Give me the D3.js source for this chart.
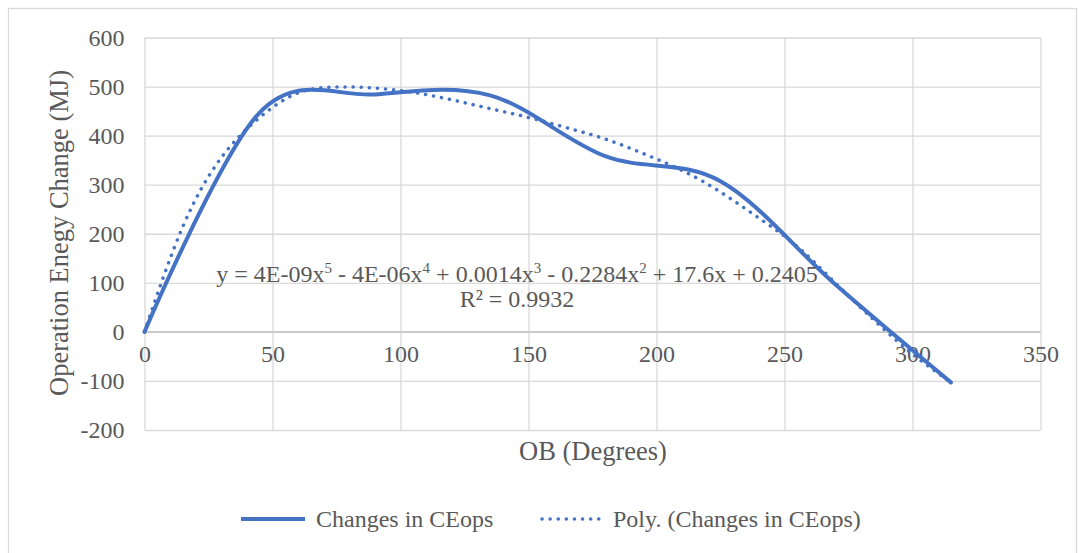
<!DOCTYPE html>
<html lang="en">
<head>
    <meta charset="utf-8">
    <title>Operation Energy Change</title>
    <style>
        body { margin: 0; background: white; }
        svg { display: block; }
        .grid line { stroke: #d9d9d9; stroke-width: 1.3; }
        .grid path { display: none; }
        .tick-label text { font-family: "Liberation Serif", "Times New Roman", serif; font-size: 24px; fill: #595959; }
        .tick-label path, .tick-label line { display: none; }
        .title { font-family: "Liberation Serif", "Times New Roman", serif; font-size: 26.5px; fill: #595959; }
        .eq { font-family: "Liberation Serif", "Times New Roman", serif; font-size: 24px; fill: #595959; }
        .legend { font-family: "Liberation Serif", "Times New Roman", serif; font-size: 24px; fill: #595959; }
    </style>
    <script src="https://d3js.org/d3.v7.min.js"></script>
</head>
<body>
<svg id="chart" width="1078" height="553"></svg>
<script>
    // measured series (OB degrees vs energy change)
    const obDegrees = [0, 45, 90, 135, 180, 225, 270, 315];
    const ceopsChange = [0, 447, 484, 482, 358, 307, 96, -103];

    // polynomial trendline
    const trendDegrees = [0, 15, 30, 45, 60, 75, 90, 105, 120, 135, 150, 165, 180, 195, 210, 225, 240, 255, 270, 285, 300, 315];
    const trendValues = [0, 215, 355, 437, 487, 499, 497, 488, 473, 455, 437, 416, 393, 363, 329, 285, 232, 174, 99, 24, -45, -103];

    const xTicks = [0, 50, 100, 150, 200, 250, 300, 350];
    const yTicks = [-200, -100, 0, 100, 200, 300, 400, 500, 600];

    const seriesName = "Changes in CEops";
    const trendName = "Poly. (Changes in CEops)";
    const blue = "#4472c4";

    const svg = d3.select("#chart");

    // chart border
    svg.append("rect")
        .attr("x", 8.5).attr("y", 8.5)
        .attr("width", 1068).attr("height", 560)
        .attr("fill", "white")
        .attr("stroke", "#d9d9d9")
        .attr("stroke-width", 1.3);

    const x = d3.scaleLinear().domain([0, 350]).range([144.5, 1040.5]);
    const y = d3.scaleLinear().domain([-200, 600]).range([430, 37.5]);

    // gridlines
    svg.append("g")
        .attr("class", "grid")
        .attr("transform", `translate(0,${y(-200)})`)
        .call(d3.axisBottom(x).tickValues(xTicks).tickSize(-(y(-200) - y(600))).tickFormat(""));

    svg.append("g")
        .attr("class", "grid")
        .attr("transform", `translate(${x(0)},0)`)
        .call(d3.axisLeft(y).tickValues(yTicks).tickSize(-(x(350) - x(0))).tickFormat(""));

    // zero line is a bit darker
    svg.append("line")
        .attr("x1", x(0)).attr("x2", x(350))
        .attr("y1", y(0)).attr("y2", y(0))
        .attr("stroke", "#bfbfbf")
        .attr("stroke-width", 1.5);

    // tick labels (plain hyphen for negatives, like the original)
    svg.append("g")
        .attr("class", "tick-label")
        .attr("transform", `translate(0,${y(0)})`)
        .call(d3.axisBottom(x).tickValues(xTicks).tickSize(0).tickPadding(13).tickFormat(d => String(d)));

    svg.append("g")
        .attr("class", "tick-label")
        .attr("transform", `translate(${x(0) - 20},0)`)
        .call(d3.axisLeft(y).tickValues(yTicks).tickSize(0).tickPadding(0).tickFormat(d => String(d)));

    // axis titles
    svg.append("text")
        .attr("class", "title")
        .attr("x", 593).attr("y", 460)
        .attr("text-anchor", "middle")
        .text("OB (Degrees)");

    svg.append("text")
        .attr("class", "title")
        .attr("transform", "translate(68,233) rotate(-90)")
        .attr("text-anchor", "middle")
        .text("Operation Enegy Change (MJ)");

    // series line
    const line = d3.line()
        .x(d => x(d[0]))
        .y(d => y(d[1]))
        .curve(d3.curveCatmullRom.alpha(0));

    svg.append("path")
        .datum(obDegrees.map((d, i) => [d, ceopsChange[i]]))
        .attr("d", line)
        .attr("fill", "none")
        .attr("stroke", blue)
        .attr("stroke-width", 4)
        .attr("stroke-linejoin", "round")
        .attr("stroke-linecap", "round");

    // trendline
    const trendLine = d3.line()
        .x(d => x(d[0]))
        .y(d => y(d[1]))
        .curve(d3.curveNatural);

    svg.append("path")
        .datum(trendDegrees.map((d, i) => [d, trendValues[i]]))
        .attr("d", trendLine)
        .attr("fill", "none")
        .attr("stroke", blue)
        .attr("stroke-width", 3.5)
        .attr("stroke-linecap", "round")
        .attr("stroke-dasharray", "0.1 8");

    // equation label
    const eq = svg.append("text")
        .attr("class", "eq")
        .attr("x", 517).attr("y", 282)
        .attr("text-anchor", "middle");

    const parts = [
        ["y = 4E-09x", "5"],
        [" - 4E-06x", "4"],
        [" + 0.0014x", "3"],
        [" - 0.2284x", "2"],
        [" + 17.6x + 0.2405", null]
    ];
    let shift = 0;
    parts.forEach(p => {
        eq.append("tspan").attr("dy", shift).text(p[0]);
        shift = 0;
        if (p[1]) {
            eq.append("tspan").attr("dy", -9).attr("font-size", 15).text(p[1]);
            shift = 9;
        }
    });

    svg.append("text")
        .attr("class", "eq")
        .attr("x", 517).attr("y", 307)
        .attr("text-anchor", "middle")
        .text("R² = 0.9932");

    // legend
    const legendY = 519;
    svg.append("line")
        .attr("x1", 241).attr("x2", 305)
        .attr("y1", legendY).attr("y2", legendY)
        .attr("stroke", blue)
        .attr("stroke-width", 4);
    svg.append("text")
        .attr("class", "legend")
        .attr("x", 316).attr("y", legendY + 8)
        .text(seriesName);

    svg.append("line")
        .attr("x1", 542).attr("x2", 606)
        .attr("y1", legendY).attr("y2", legendY)
        .attr("stroke", blue)
        .attr("stroke-width", 3.5)
        .attr("stroke-linecap", "round")
        .attr("stroke-dasharray", "0.1 8");
    svg.append("text")
        .attr("class", "legend")
        .attr("x", 613).attr("y", legendY + 8)
        .text(trendName);
</script>
</body>
</html>
